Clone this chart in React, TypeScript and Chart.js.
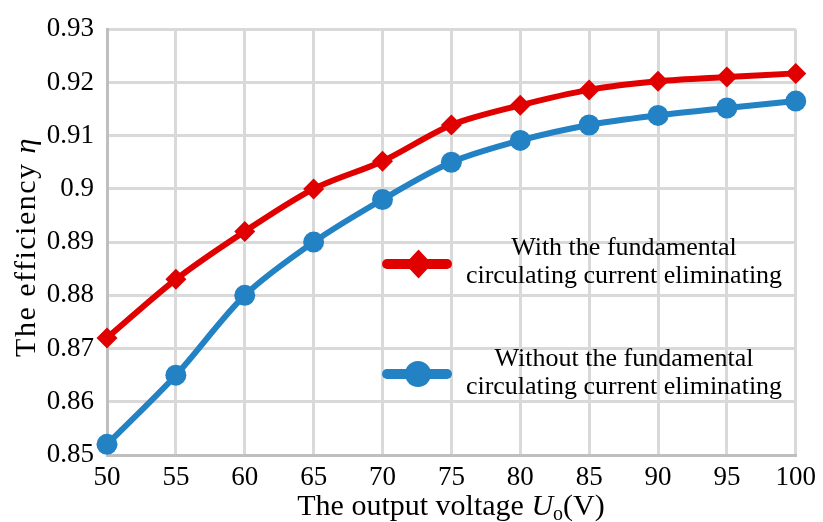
import React, { useEffect, useRef } from 'react';
import { Chart, registerables } from 'chart.js';

Chart.register(...registerables);

const voltages = [50, 55, 60, 65, 70, 75, 80, 85, 90, 95, 100];
const withElimination = [0.872, 0.883, 0.892, 0.9, 0.9052, 0.912, 0.9157, 0.9186, 0.9202, 0.921, 0.9217];
const withoutElimination = [0.852, 0.865, 0.88, 0.89, 0.898, 0.905, 0.9091, 0.912, 0.9138, 0.9152, 0.9165];
const legendWith = ['With the fundamental', 'circulating current eliminating'];
const legendWithout = ['Without the fundamental', 'circulating current eliminating'];

const RED = '#E00000';
const BLUE = '#2382C4';
const FONT = '"Liberation Serif", "Times New Roman", serif';

type Seg = { t: string; italic?: boolean; sub?: boolean };

function drawRich(ctx: CanvasRenderingContext2D, segs: Seg[], cx: number, baseY: number, size: number, spacing = 0) {
  const fontOf = (s: Seg) => `${s.italic ? 'italic ' : ''}${s.sub ? Math.round(size * 0.65) : size}px ${FONT}`;
  (ctx as any).letterSpacing = `${spacing}px`;
  let total = 0;
  const widths = segs.map((s) => {
    ctx.font = fontOf(s);
    const w = ctx.measureText(s.t).width;
    total += w;
    return w;
  });
  let x = cx - total / 2;
  ctx.textAlign = 'left';
  ctx.textBaseline = 'alphabetic';
  segs.forEach((s, i) => {
    ctx.font = fontOf(s);
    ctx.fillText(s.t, x, baseY + (s.sub ? size * 0.18 : 0));
    x += widths[i];
  });
  (ctx as any).letterSpacing = '0px';
}

const overlay = {
  id: 'overlay',
  afterDraw(chart: any) {
    const ctx: CanvasRenderingContext2D = chart.ctx;
    ctx.save();
    ctx.fillStyle = '#000';
    // x title
    drawRich(ctx, [{ t: 'The output voltage ' }, { t: 'U', italic: true }, { t: 'o', sub: true }, { t: '(V)' }], 451, 515, 30);
    // y title
    ctx.save();
    ctx.translate(35, 247);
    ctx.rotate(-Math.PI / 2);
    drawRich(ctx, [{ t: 'The efficiency ' }, { t: 'η', italic: true }], 0, 0, 30, 1.5);
    ctx.restore();

    // legend
    const entries = [
      { color: RED, style: 'diamond', y: 264, lines: legendWith, base: [255, 283] },
      { color: BLUE, style: 'circle', y: 374, lines: legendWithout, base: [366, 394] },
    ];
    entries.forEach((e) => {
      ctx.strokeStyle = e.color;
      ctx.lineWidth = 10;
      ctx.lineCap = 'round';
      ctx.beginPath();
      ctx.moveTo(387, e.y);
      ctx.lineTo(447, e.y);
      ctx.stroke();
      ctx.fillStyle = e.color;
      ctx.beginPath();
      if (e.style === 'diamond') {
        ctx.moveTo(418.5, e.y - 14.5);
        ctx.lineTo(432, e.y);
        ctx.lineTo(418.5, e.y + 14.5);
        ctx.lineTo(405, e.y);
        ctx.closePath();
      } else {
        ctx.arc(418, e.y, 13, 0, Math.PI * 2);
      }
      ctx.fill();
      ctx.fillStyle = '#000';
      ctx.font = `26px ${FONT}`;
      ctx.textAlign = 'center';
      ctx.textBaseline = 'alphabetic';
      e.lines.forEach((l, i) => ctx.fillText(l, 624, e.base[i]));
    });
    ctx.restore();
  },
};

export default function App() {
  const ref = useRef<HTMLCanvasElement>(null);
  useEffect(() => {
    if (!ref.current) return;
    const chart = new Chart(ref.current, {
      type: 'line',
      data: {
        datasets: [
          {
            label: 'Without the fundamental circulating current eliminating',
            data: voltages.map((v, i) => ({ x: v, y: withoutElimination[i] })),
            borderColor: BLUE,
            backgroundColor: BLUE,
            borderWidth: 6,
            pointStyle: 'circle',
            pointRadius: 10.5,
            pointBorderWidth: 0,
            pointBackgroundColor: BLUE,
            tension: 0.3,
            clip: false as any,
          },
          {
            label: 'With the fundamental circulating current eliminating',
            data: voltages.map((v, i) => ({ x: v, y: withElimination[i] })),
            borderColor: RED,
            backgroundColor: RED,
            borderWidth: 6,
            pointStyle: 'rectRot',
            pointRadius: 10.5,
            pointBorderWidth: 0,
            pointBackgroundColor: RED,
            tension: 0.3,
            clip: false as any,
          },
        ],
      },
      options: {
        animation: false,
        responsive: false,
        maintainAspectRatio: false,
        layout: { padding: { top: 22, right: 25, left: 0, bottom: 0 } },
        plugins: { legend: { display: false }, tooltip: { enabled: false } },
        scales: {
          x: {
            type: 'linear',
            min: 50,
            max: 100,
            afterFit: (s: any) => {
              s.height = 67;
            },
            ticks: {
              stepSize: 5,
              padding: 7,
              color: '#000',
              font: { family: FONT, size: 27 },
            },
            grid: { color: '#D9D9D9', lineWidth: 3, drawTicks: false },
            border: { color: '#BFBFBF', width: 3 },
          },
          y: {
            type: 'linear',
            min: 0.85,
            max: 0.93,
            afterFit: (s: any) => {
              s.width = 107;
            },
            ticks: {
              stepSize: 0.01,
              padding: 13,
              color: '#000',
              font: { family: FONT, size: 27 },
              callback: (v: any) => String(Number(Number(v).toFixed(2))),
            },
            grid: { color: '#D9D9D9', lineWidth: 3, drawTicks: false },
            border: { color: '#BFBFBF', width: 3 },
          },
        },
      },
      plugins: [overlay],
    });
    return () => chart.destroy();
  }, []);
  return (
    <div style={{ position: 'fixed', left: 0, top: 0, width: 823, height: 522, background: '#fff' }}>
      <canvas ref={ref} width={823} height={522} style={{ width: 823, height: 522 }} />
    </div>
  );
}
